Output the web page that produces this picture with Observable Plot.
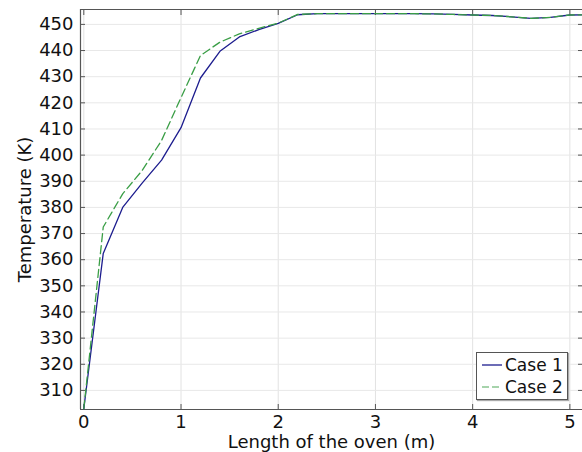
<!DOCTYPE html>
<html>
<head>
<meta charset="utf-8">
<script src="https://cdn.jsdelivr.net/npm/d3@7"></script>
<script src="https://cdn.jsdelivr.net/npm/@observablehq/plot@0.6"></script>
<style>
  html, body { margin: 0; padding: 0; background: #fff; }
  #wrap { position: relative; width: 582px; height: 452px; overflow: hidden; font-family: "DejaVu Sans", sans-serif; }
  #legend { position: absolute; left: 476px; top: 352px; width: 90px; height: 46px; border: 1px solid #555; background: #fff;
            font-size: 17px; color: #111; box-shadow: 1px 1px 1px #aaa; white-space: nowrap; }
  .row { display: flex; align-items: center; height: 21px; margin-top: 1px; white-space: nowrap; }
  .row svg { margin-left: 5px; margin-right: 3px; flex: none; }
</style>
</head>
<body>
<div id="wrap"></div>
<script>
const positions = [0, 0.2, 0.4, 0.6, 0.8, 1.0, 1.2, 1.4, 1.6, 1.8, 2.0, 2.2, 2.4, 2.6, 2.8, 3.0, 3.2, 3.4, 3.6, 3.8, 4.0, 4.2, 4.4, 4.6, 4.8, 5.0, 5.2];
const case1 = [303, 362.4, 380, 389.3, 398.1, 410.5, 429.5, 439.7, 445.2, 448, 450.4, 453.7, 454.1, 454.1, 454.1, 454.1, 454.1, 454.1, 454.0, 453.8, 453.6, 453.4, 452.9, 452.3, 452.7, 453.6, 453.7];
const case2 = [303, 372.5, 385.2, 394.1, 405.6, 422.0, 438.1, 443.2, 446.4, 448.5, 450.5, 453.8, 454.1, 454.1, 454.1, 454.1, 454.1, 454.1, 454.0, 453.8, 453.6, 453.4, 452.9, 452.3, 452.7, 453.6, 453.7];
const seriesNames = ["Case 1", "Case 2"];
const seriesColors = ["#1c1c8e", "#3a9e46"];
const xTicks = [0, 1, 2, 3, 4, 5];
const yTicks = [310, 320, 330, 340, 350, 360, 370, 380, 390, 400, 410, 420, 430, 440, 450];
const xDomain = [-0.034, 5.13];
const yDomain = [302.7, 455.7];

const d1 = positions.map((x, i) => ({x, y: case1[i]}));
const d2 = positions.map((x, i) => ({x, y: case2[i]}));

const chart = Plot.plot({
  width: 582,
  height: 452,
  marginLeft: 80,
  marginTop: 9,
  marginBottom: 43,
  marginRight: 0,
  style: {fontFamily: "DejaVu Sans, sans-serif", fontSize: "18px", color: "#111", background: "#fff"},
  x: {domain: xDomain},
  y: {domain: yDomain},
  marks: [
    Plot.gridX(xTicks, {stroke: "#e2e2e2", strokeOpacity: 1}),
    Plot.gridY(yTicks, {stroke: "#e8e8e8", strokeOpacity: 1}),
    Plot.ruleX([xDomain[0]], {stroke: "#555", strokeWidth: 1.2}),
    Plot.ruleY([yDomain[0]], {stroke: "#555", strokeWidth: 1.2}),
    Plot.ruleY([yDomain[1]], {stroke: "#555", strokeWidth: 1.2}),
    Plot.axisX({ticks: xTicks, tickFormat: d3.format("d"), tickSize: -5, tickPadding: 11, stroke: "#555", fill: "#111", fontSize: 18,
      label: "Length of the oven (m)", labelAnchor: "center", labelArrow: "none", labelOffset: 38}),
    Plot.axisX({anchor: "top", ticks: xTicks, tickSize: -5, tickFormat: () => "", stroke: "#555", label: null}),
    Plot.axisY({ticks: yTicks, tickFormat: d3.format("d"), tickSize: -5, tickPadding: 12, stroke: "#555", fill: "#111", fontSize: 18,
      label: "Temperature (K)", labelAnchor: "center", labelArrow: "none", labelOffset: 62}),
    Plot.axisY({anchor: "right", ticks: yTicks, tickSize: -5, tickFormat: () => "", stroke: "#555", label: null}),
    Plot.line(d1, {x: "x", y: "y", stroke: seriesColors[0], strokeWidth: 1.3}),
    Plot.line(d2, {x: "x", y: "y", stroke: seriesColors[1], strokeWidth: 1.3, strokeDasharray: "8,4"})
  ]
});
const wrap = document.getElementById("wrap");
wrap.appendChild(chart);

const legend = document.createElement("div");
legend.id = "legend";
seriesNames.forEach((name, i) => {
  const row = document.createElement("div");
  row.className = "row";
  row.innerHTML = `<svg width="20" height="4"><line x1="0" y1="2" x2="20" y2="2" stroke="${seriesColors[i]}" stroke-width="1.3" ${i === 1 ? 'stroke-dasharray="7,3" stroke-opacity="0.6"' : ''}/></svg><span>${name}</span>`;
  legend.appendChild(row);
});
wrap.appendChild(legend);
</script>
</body>
</html>
